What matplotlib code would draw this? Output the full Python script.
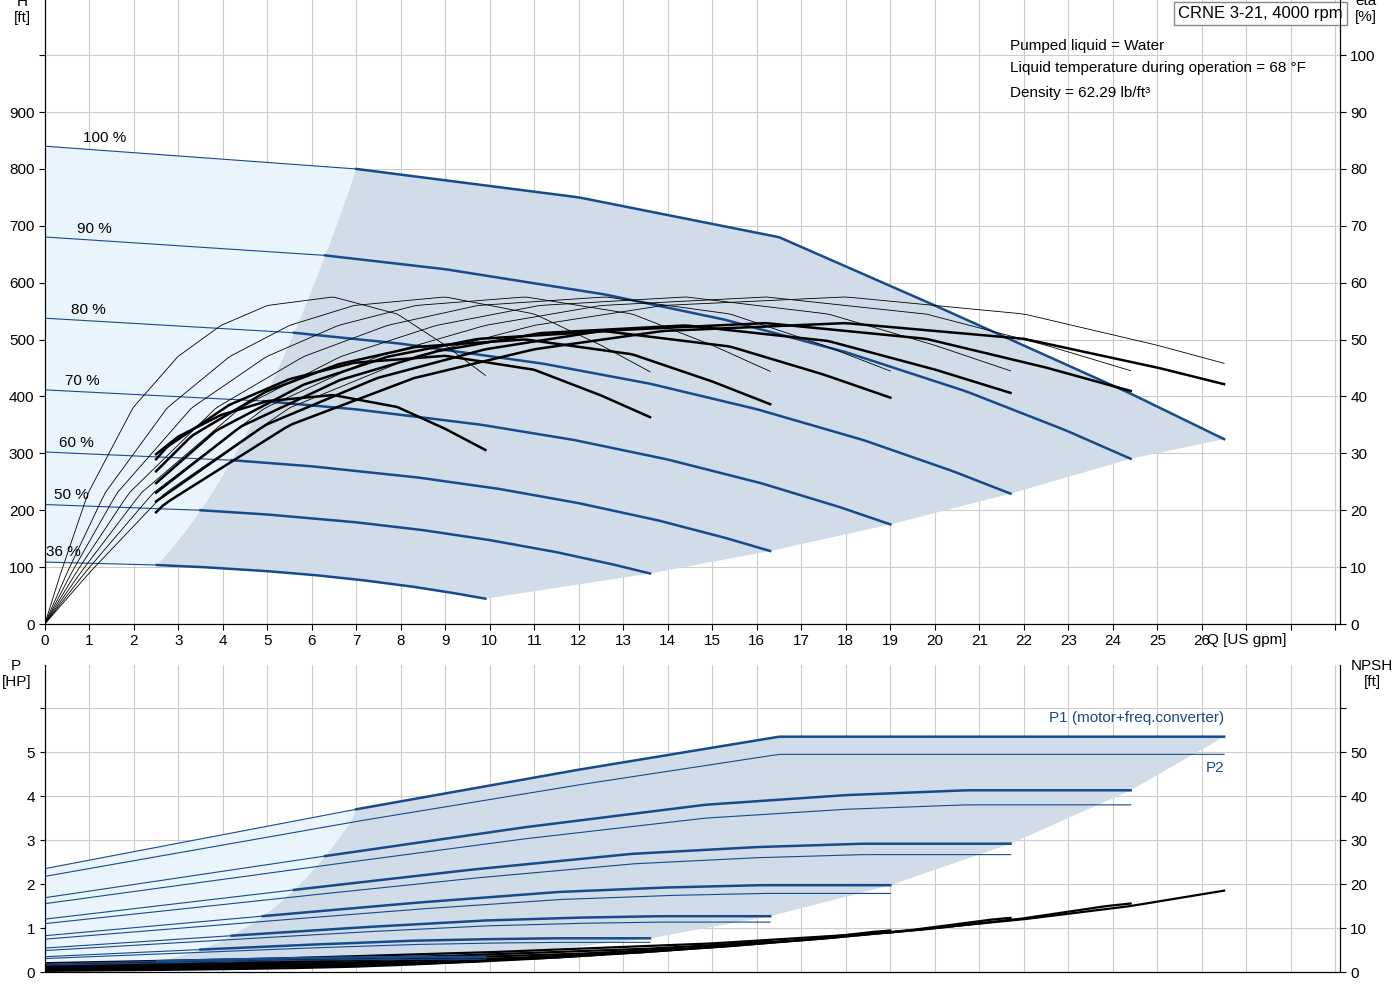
import numpy as np
import matplotlib
matplotlib.use("Agg")
import matplotlib.pyplot as plt

BLUE = "#174a8b"
DARK = "#d0dce8"
LIGHT = "#eaf4fd"
plt.rcParams['font.family'] = ['Liberation Sans', 'DejaVu Sans']

# ---- data ----
speeds = [1.00, 0.90, 0.80, 0.70, 0.60, 0.50, 0.36]
speed_labels = ["100 %", "90 %", "80 %", "70 %", "60 %", "50 %", "36 %"]
end_q = [26.5, 24.4, 21.7, 19.0, 16.3, 13.6, 9.9]
q_min_base = 7.0

# unlimited head curve at 100% speed (affinity base)
base_q = [0, 7, 10, 14, 17, 20, 23, 25.5, 27.6]
base_h = [840, 800, 770, 715, 660, 590, 505, 420, 340]
# 100% head curve (power limited)
h100_q = [0, 7, 12, 16.5, 20, 24.4, 26.5]
h100_h = [840, 800, 750, 680, 560, 405, 325]

# pump efficiency (thin), base at 100%, eta %
etap_q = [0, 1, 2.7, 5.5, 8.3, 11, 13.9, 18, 22, 25, 27.6]
etap_v = [0, 9, 23, 38, 47, 52.5, 56, 57.5, 54.5, 49, 43.5]
# total efficiency factor per speed (thick)
eta_tot_factor = [0.92, 0.92, 0.913, 0.895, 0.87, 0.82, 0.70]
eta_tot_start = 2.5

# P1 base (unlimited) and 100% limited, HP
p1_q = [0, 7, 12, 16.5, 20, 23, 27.6]
p1_v = [2.3, 3.6, 4.5, 5.2, 5.5, 5.65, 5.65]
p1_100_q = [0, 7, 12, 16.5, 26.5]
p1_100_v = [2.35, 3.7, 4.6, 5.35, 5.35]
p_loss = 0.12
p2_ratio = [0.925, 0.92, 0.915, 0.905, 0.895, 0.88, 0.85]

# NPSH base, ft
npsh_q = [0, 5, 10, 15, 19, 22, 24.4, 26.5, 27.6]
npsh_v = [2.0, 3.0, 4.5, 6.5, 9.0, 12.0, 15.0, 18.5, 19.8]

fig = plt.figure(figsize=(14, 10), dpi=100)
ax = fig.add_axes([0.032, 0.376, 0.925, 0.624])
axb = fig.add_axes([0.032, 0.028, 0.925, 0.307])

XMAX = 29.1

def head(i, Q):
    n = speeds[i]
    if i == 0:
        return np.interp(Q, h100_q, h100_h)
    return n**2 * np.interp(Q / n, base_q, base_h)

def p1(i, Q):
    n = speeds[i]
    if i == 0:
        return np.interp(Q, p1_100_q, p1_100_v)
    return n**3 * np.interp(Q / n, p1_q, p1_v) + p_loss * (1 - n)

# ---- top shading ----
nn = np.linspace(0.36, 1.0, 40)
mf_q = q_min_base * nn
mf_h = 800 * nn**2
Qa = np.linspace(q_min_base, end_q[0], 80)
top = head(0, Qa)
ends_h = [head(i, end_q[i]) for i in range(7)]
Qb = np.linspace(end_q[6], mf_q[0], 40)
poly_x = np.concatenate([mf_q, Qa, end_q, Qb])
poly_y = np.concatenate([mf_h, top, ends_h, head(6, Qb)])
ax.fill(poly_x, poly_y, color=DARK, lw=0, zorder=1)
Ql = np.linspace(0, mf_q[0], 20)
Qt = np.linspace(q_min_base, 0, 40)
lx = np.concatenate([Ql, mf_q, Qt])
ly = np.concatenate([head(6, Ql), mf_h, head(0, Qt)])
ax.fill(lx, ly, color=LIGHT, lw=0, zorder=1)

# head curves
for i, n in enumerate(speeds):
    qm = q_min_base * n
    Q1 = np.linspace(0, qm, 30)
    Q2 = np.linspace(qm, end_q[i], 120)
    ax.plot(Q1, head(i, Q1), color=BLUE, lw=0.8, zorder=3)
    ax.plot(Q2, head(i, Q2), color=BLUE, lw=1.8, zorder=3)
    ax.text(0.85 - (1 - n) * 1.3, head(i, 0.85) + 12, speed_labels[i], fontsize=11, zorder=4)

# efficiency curves
for i, n in enumerate(speeds):
    Q = np.linspace(0, end_q[i], 150)
    e = np.interp(Q / n, etap_q, etap_v)
    ax.plot(Q, e * 10, color="black", lw=0.6, zorder=3)
    Qt2 = np.linspace(eta_tot_start, end_q[i], 150)
    et = np.interp(Qt2 / n, etap_q, etap_v) * eta_tot_factor[i]
    ax.plot(Qt2, et * 10, color="black", lw=1.8, zorder=3)

ax.set_xlim(0, XMAX)
ax.set_ylim(0, 1097)
ax.set_xticks(range(0, 30))
ax.set_xticklabels([str(i) for i in range(27)] + ["", "", ""], fontsize=11)
ax.set_yticks(range(0, 1100, 100))
ax.set_yticklabels([str(v) if v <= 900 else "" for v in range(0, 1100, 100)], fontsize=11)
ax.grid(True, color="#cccccc", lw=0.8, zorder=0)
ax.set_axisbelow(True)
ax.spines['top'].set_visible(False)
ax.tick_params(direction='out', length=4)
axr = ax.twinx()
axr.set_ylim(0, 109.7)
axr.set_yticks(range(0, 110, 10))
axr.tick_params(labelsize=11, length=4)
axr.spines['top'].set_visible(False)
ax.text(-0.5, 1080, "H\n[ft]", ha="center", va="center", fontsize=11)
axr.text(1.02, 0.985, "eta\n[%]", transform=ax.transAxes, ha="center", va="center", fontsize=11)
ax.text(27.0, -28, "Q [US gpm]", ha="center", va="center", fontsize=11)
ax.text(0.875, 0.99, "CRNE 3-21, 4000 rpm", transform=ax.transAxes, fontsize=12,
        va="top", ha="left", zorder=6,
        bbox=dict(boxstyle="square,pad=0.25", fc="white", ec="#888888"))
ax.text(21.7, 1017, "Pumped liquid = Water", fontsize=11, va="center")
ax.text(21.7, 978, "Liquid temperature during operation = 68 °F", fontsize=11, va="center")
ax.text(21.7, 934, "Density = 62.29 lb/ft³", fontsize=11, va="center")

# ---- bottom ----
mfp = np.array([p1(0, q_min_base)]) 
mf_p = np.array([(p1_v[1] * n**3 + p_loss * (1 - n)) if n < 1 else 3.7 for n in nn])
Qa = np.linspace(q_min_base, end_q[0], 80)
ends_p = [p1(i, end_q[i]) for i in range(7)]
Qb = np.linspace(end_q[6], mf_q[0], 40)
bx = np.concatenate([mf_q, Qa, end_q, Qb])
by = np.concatenate([mf_p, p1(0, Qa), ends_p, p1(6, Qb)])
axb.fill(bx, by, color=DARK, lw=0, zorder=1)
lx = np.concatenate([Ql, mf_q, Qt])
ly = np.concatenate([p1(6, Ql), mf_p, p1(0, Qt)])
axb.fill(lx, ly, color=LIGHT, lw=0, zorder=1)

for i, n in enumerate(speeds):
    qm = q_min_base * n
    Q1 = np.linspace(0, qm, 30)
    Q2 = np.linspace(qm, end_q[i], 120)
    axb.plot(Q1, p1(i, Q1), color=BLUE, lw=0.8, zorder=3)
    axb.plot(Q2, p1(i, Q2), color=BLUE, lw=1.8, zorder=3)
    Q = np.linspace(0, end_q[i], 150)
    axb.plot(Q, p1(i, Q) * p2_ratio[i], color=BLUE, lw=0.8, zorder=3)
    npsh = n**2 * np.interp(Q / n, npsh_q, npsh_v)
    axb.plot(Q, npsh / 10, color="black", lw=1.6, zorder=3)

axb.text(26.5, 5.68, "P1 (motor+freq.converter)", color=BLUE, fontsize=11, ha="right")
axb.text(26.5, 4.55, "P2", color=BLUE, fontsize=11, ha="right")
axb.set_xlim(0, XMAX)
axb.set_ylim(0, 6.98)
axb.set_xticks(range(0, 30))
axb.set_xticklabels([])
axb.tick_params(axis='x', length=0)
axb.set_yticks(range(0, 7))
axb.set_yticklabels([str(v) if v <= 5 else "" for v in range(7)], fontsize=11)
axb.grid(True, color="#cccccc", lw=0.8, zorder=0)
axb.set_axisbelow(True)
axb.spines['top'].set_visible(False)
axbr = axb.twinx()
axbr.set_ylim(0, 69.8)
axbr.set_yticks(range(0, 70, 10))
axbr.set_yticklabels([str(v) if v <= 50 else "" for v in range(0, 70, 10)])
axbr.tick_params(labelsize=11, length=4)
axbr.spines['top'].set_visible(False)
axb.text(-0.022, 0.97, "P\n[HP]", transform=axb.transAxes, ha="center", va="center", fontsize=11)
axb.text(1.025, 0.97, "NPSH\n[ft]", transform=axb.transAxes, ha="center", va="center", fontsize=11)

fig.savefig("out.png", dpi=100)
